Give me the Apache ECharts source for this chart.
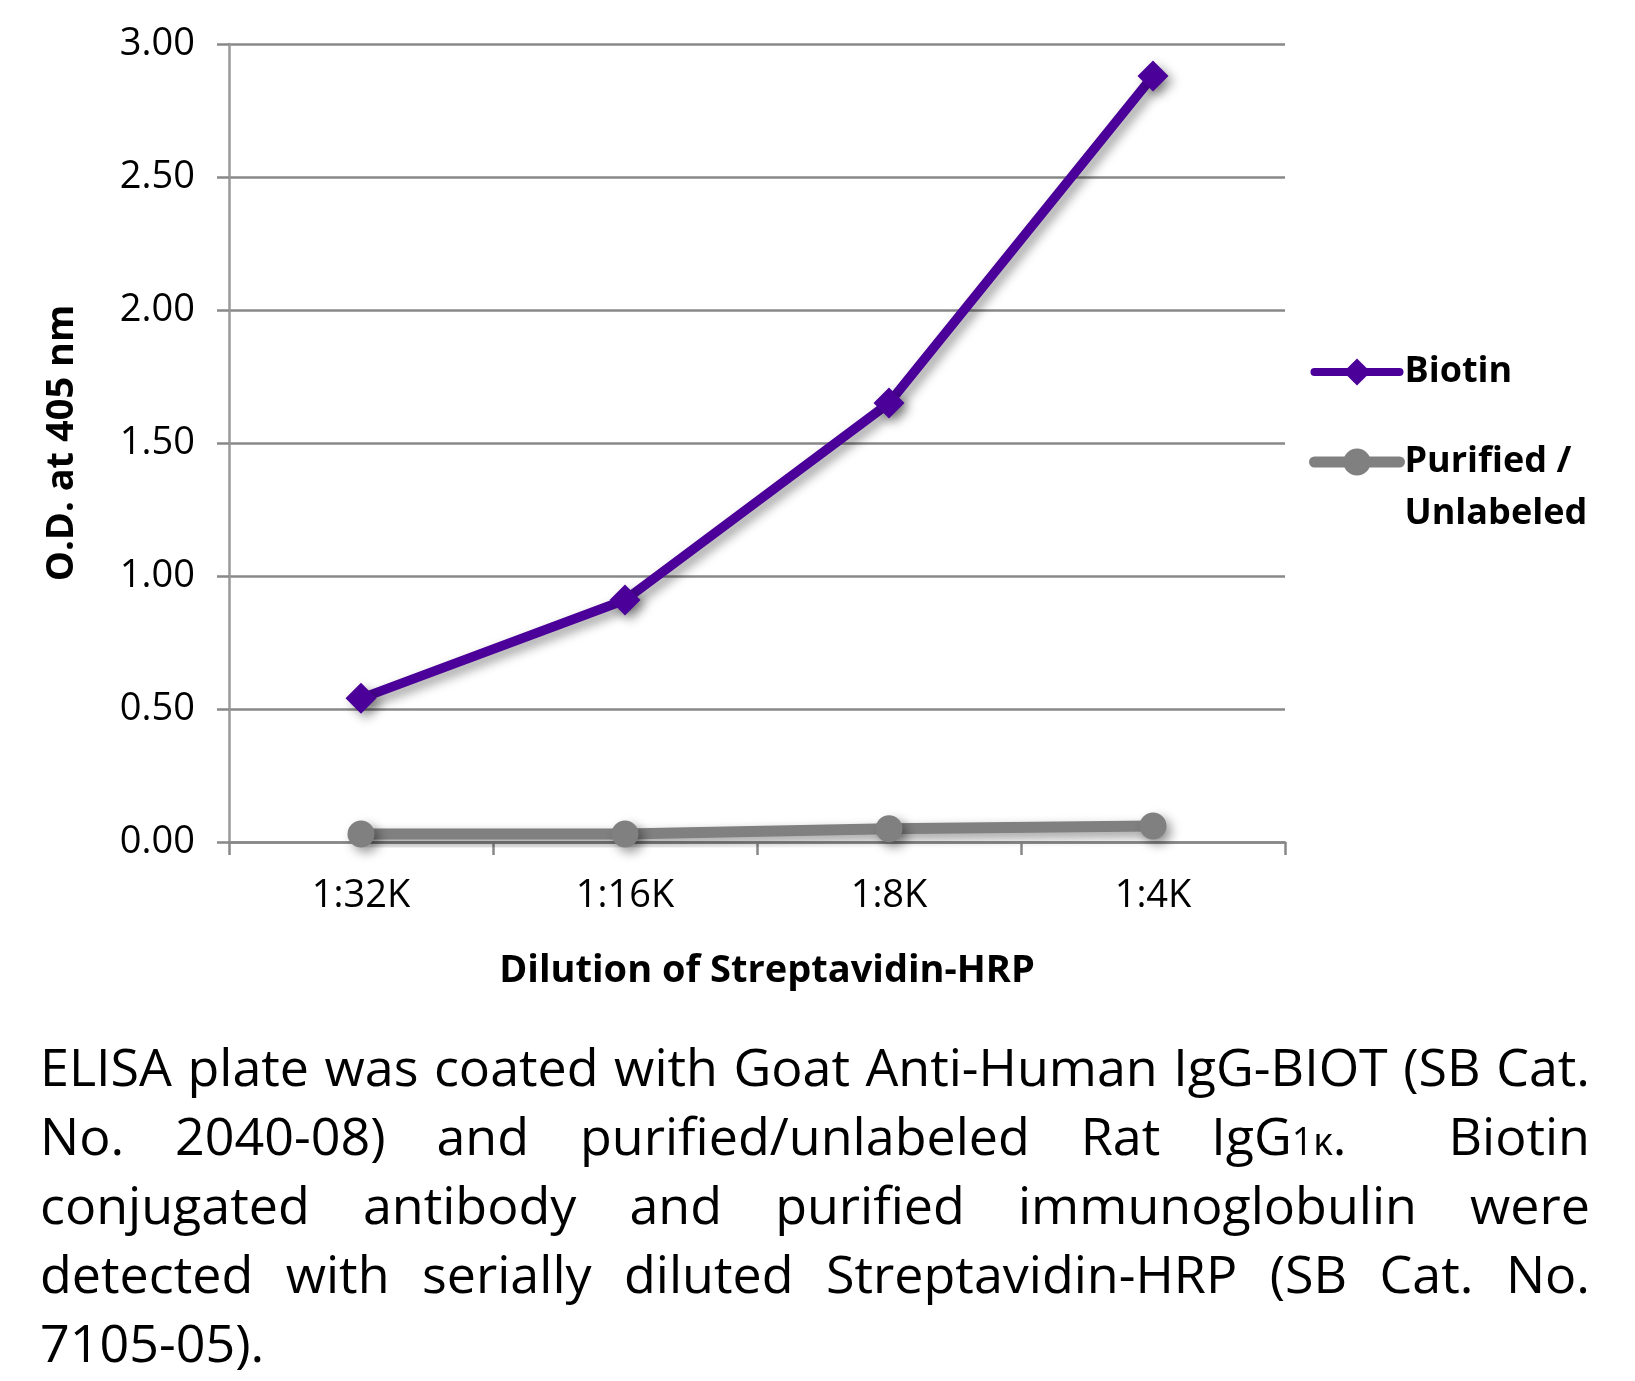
<!DOCTYPE html>
<html>
<head>
<meta charset="utf-8">
<script src="https://cdn.jsdelivr.net/npm/echarts@6/dist/echarts.min.js"></script>
<style>
  html, body { margin: 0; padding: 0; background: #fff; }
  #chart { width: 1635px; height: 1381px; position: absolute; left: 0; top: 0; }
  .caption {
    position: absolute;
    left: 40px;
    top: 1031px;
    width: 1550px;
    font-family: "Open Sans", sans-serif;
    font-size: 52px;
    line-height: 69px;
    color: #000;
  }
  .caption div { height: 69px; overflow: visible; text-align: justify; text-align-last: justify; white-space: nowrap; }
  .caption div.last { text-align-last: left; }
  .small { font-size: 0.72em; line-height: 1; }
</style>
</head>
<body>
<div id="chart"></div>
<div class="caption">
  <div>ELISA plate was coated with Goat Anti-Human IgG-BIOT (SB Cat.</div>
  <div>No. 2040-08) and purified/unlabeled Rat IgG<span class="small">1κ</span>. &nbsp;Biotin</div>
  <div>conjugated antibody and purified immunoglobulin were</div>
  <div>detected with serially diluted Streptavidin-HRP (SB Cat. No.</div>
  <div class="last">7105-05).</div>
</div>
<script>
const categories = ["1:32K", "1:16K", "1:8K", "1:4K"];
const biotin = [0.54, 0.91, 1.65, 2.88];
const purified = [0.03, 0.03, 0.05, 0.06];
const seriesNames = ["Biotin", "Purified / Unlabeled"];

const myChart = echarts.init(document.getElementById("chart"));

const shadow = {
  shadowColor: "rgba(0,0,0,0.4)",
  shadowBlur: 11,
  shadowOffsetX: 5,
  shadowOffsetY: 5,
};

const option = {
  animation: false,
  grid: {
    left: 229,
    right: 350,
    top: 44,
    bottom: 539,
  },
  legend: {
    orient: "vertical",
    left: 1304,
    top: 341,
    itemWidth: 85,
    itemHeight: 34,
    itemGap: -14,
    textStyle: {
      fontFamily: "Open Sans",
      fontWeight: "bold",
      fontSize: 36,
      color: "#000",
      lineHeight: 52,
    },
    formatter: (name) => (name === seriesNames[1] ? " \nPurified /\nUnlabeled" : name),
    data: [
      { name: seriesNames[0], lineStyle: { width: 8, cap: "round" } },
      { name: seriesNames[1], lineStyle: { width: 11, cap: "round" } },
    ],
  },
  xAxis: {
    type: "category",
    data: categories,
    name: "Dilution of Streptavidin-HRP",
    nameLocation: "middle",
    nameGap: 110,
    nameTextStyle: {
      fontFamily: "Open Sans",
      fontWeight: "bold",
      fontSize: 38,
      color: "#000",
      padding: [0, 0, 0, 20],
    },
    axisLine: { lineStyle: { color: "#888", width: 2.5 } },
    axisTick: { show: true, length: 13, lineStyle: { color: "#888", width: 2.5 } },
    axisLabel: {
      fontFamily: "Open Sans",
      fontSize: 38,
      color: "#000",
      margin: 35,
    },
  },
  yAxis: {
    type: "value",
    min: 0,
    max: 3,
    interval: 0.5,
    name: "O.D. at 405 nm",
    nameLocation: "middle",
    nameGap: 148,
    nameRotate: 90,
    nameTextStyle: {
      fontFamily: "Open Sans",
      fontWeight: "bold",
      fontSize: 38,
      color: "#000",
    },
    axisLine: { show: true, lineStyle: { color: "#999", width: 2.5 } },
    axisTick: { show: true, length: 12, lineStyle: { color: "#888", width: 2.5 } },
    splitLine: { lineStyle: { color: "#888", width: 2.5 } },
    axisLabel: {
      fontFamily: "Open Sans",
      fontSize: 38,
      color: "#000",
      margin: 34,
      formatter: (v) => v.toFixed(2),
    },
  },
  series: [
    {
      name: seriesNames[0],
      type: "line",
      data: biotin,
      symbol: "diamond",
      symbolSize: 31,
      color: "#4a0099",
      lineStyle: { width: 9.5, color: "#4a0099", ...shadow },
      itemStyle: { color: "#4a0099", ...shadow },
      z: 3,
    },
    {
      name: seriesNames[1],
      type: "line",
      data: purified,
      symbol: "circle",
      symbolSize: 27,
      color: "#808080",
      lineStyle: { width: 11, color: "#808080", ...shadow },
      itemStyle: { color: "#808080", ...shadow },
      z: 2,
    },
  ],
};

myChart.setOption(option);
</script>
</body>
</html>
